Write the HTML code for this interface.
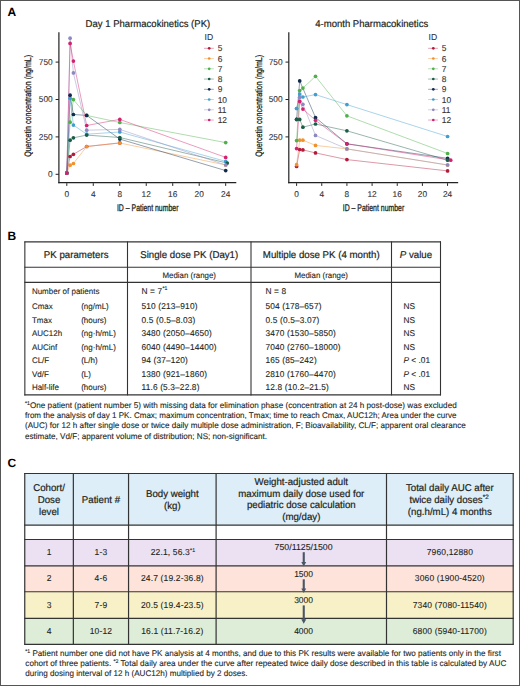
<!DOCTYPE html>
<html><head><meta charset="utf-8"><title>Figure</title>
<style>
html,body{margin:0;padding:0;background:#fff;}
body{width:520px;height:686px;overflow:hidden;font-family:"Liberation Sans", sans-serif;}
svg{display:block;}
</style></head><body>
<svg width="520" height="686" viewBox="0 0 520 686" text-rendering="geometricPrecision" font-family='"Liberation Sans", sans-serif'>
<rect x="0" y="0" width="520" height="686" fill="#fff"/>
<text x="7.4" y="16.1" font-size="12" font-weight="bold" fill="#000">A</text>
<text x="85.6" y="26.8" font-size="9.9" textLength="124.6" lengthAdjust="spacingAndGlyphs" fill="#231f20" stroke="#231f20" stroke-width="0.2">Day 1 Pharmacokinetics (PK)</text>
<text x="0" y="0" font-size="9.3" fill="#231f20" stroke="#231f20" stroke-width="0.3" text-anchor="middle" textLength="102" lengthAdjust="spacingAndGlyphs" transform="translate(31.0,105.8) rotate(-90)">Quercetin concentration (ng/mL)</text>
<line x1="58.9" y1="32.3" x2="58.9" y2="183.2" stroke="#222" stroke-width="1.2"/>
<line x1="58.3" y1="182.7" x2="236.28" y2="182.7" stroke="#222" stroke-width="1.2"/>
<line x1="55.6" y1="174.3" x2="58.9" y2="174.3" stroke="#222" stroke-width="1"/>
<text x="52.699999999999996" y="177.20000000000002" font-size="8.3" text-anchor="end" fill="#333" transform="matrix(1 0 0 1.02 0 -3.54)" stroke="#333" stroke-width="0.1">0</text>
<line x1="55.6" y1="136.9" x2="58.9" y2="136.9" stroke="#222" stroke-width="1"/>
<text x="52.699999999999996" y="139.8" font-size="8.3" text-anchor="end" fill="#333" transform="matrix(1 0 0 1.02 0 -2.80)" stroke="#333" stroke-width="0.1">250</text>
<line x1="55.6" y1="99.5" x2="58.9" y2="99.5" stroke="#222" stroke-width="1"/>
<text x="52.699999999999996" y="102.4" font-size="8.3" text-anchor="end" fill="#333" transform="matrix(1 0 0 1.02 0 -2.05)" stroke="#333" stroke-width="0.1">500</text>
<line x1="55.6" y1="62.10000000000001" x2="58.9" y2="62.10000000000001" stroke="#222" stroke-width="1"/>
<text x="52.699999999999996" y="65.00000000000001" font-size="8.3" text-anchor="end" fill="#333" transform="matrix(1 0 0 1.02 0 -1.30)" stroke="#333" stroke-width="0.1">750</text>
<line x1="66.8" y1="183.2" x2="66.8" y2="185.9" stroke="#222" stroke-width="1"/>
<text x="66.8" y="197.1" font-size="8.3" text-anchor="middle" fill="#333" transform="matrix(1 0 0 1.02 0 -3.94)" stroke="#333" stroke-width="0.1">0</text>
<line x1="93.28" y1="183.2" x2="93.28" y2="185.9" stroke="#222" stroke-width="1"/>
<text x="93.28" y="197.1" font-size="8.3" text-anchor="middle" fill="#333" transform="matrix(1 0 0 1.02 0 -3.94)" stroke="#333" stroke-width="0.1">4</text>
<line x1="119.75999999999999" y1="183.2" x2="119.75999999999999" y2="185.9" stroke="#222" stroke-width="1"/>
<text x="119.75999999999999" y="197.1" font-size="8.3" text-anchor="middle" fill="#333" transform="matrix(1 0 0 1.02 0 -3.94)" stroke="#333" stroke-width="0.1">8</text>
<line x1="146.24" y1="183.2" x2="146.24" y2="185.9" stroke="#222" stroke-width="1"/>
<text x="146.24" y="197.1" font-size="8.3" text-anchor="middle" fill="#333" transform="matrix(1 0 0 1.02 0 -3.94)" stroke="#333" stroke-width="0.1">12</text>
<line x1="172.72" y1="183.2" x2="172.72" y2="185.9" stroke="#222" stroke-width="1"/>
<text x="172.72" y="197.1" font-size="8.3" text-anchor="middle" fill="#333" transform="matrix(1 0 0 1.02 0 -3.94)" stroke="#333" stroke-width="0.1">16</text>
<line x1="199.2" y1="183.2" x2="199.2" y2="185.9" stroke="#222" stroke-width="1"/>
<text x="199.2" y="197.1" font-size="8.3" text-anchor="middle" fill="#333" transform="matrix(1 0 0 1.02 0 -3.94)" stroke="#333" stroke-width="0.1">20</text>
<line x1="225.68" y1="183.2" x2="225.68" y2="185.9" stroke="#222" stroke-width="1"/>
<text x="225.68" y="197.1" font-size="8.3" text-anchor="middle" fill="#333" transform="matrix(1 0 0 1.02 0 -3.94)" stroke="#333" stroke-width="0.1">24</text>
<text x="147.7" y="210.6" font-size="9.5" text-anchor="middle" textLength="61.5" lengthAdjust="spacingAndGlyphs" fill="#231f20" stroke="#231f20" stroke-width="0.3" transform="matrix(1 0 0 1.02 0 -4.21)">ID – Patient number</text>
<polyline points="66.8,173.1 70.1,156.5 73.4,154.3 86.7,146.5 119.8,142.9" fill="none" stroke="#b31b3b" stroke-width="0.75" stroke-opacity="0.6"/>
<polyline points="66.8,173.1 70.1,165.2 73.4,163.5 86.7,146.5 119.8,143.0 225.7,165.0" fill="none" stroke="#f0922e" stroke-width="0.75" stroke-opacity="0.6"/>
<polyline points="66.8,173.1 70.1,122.2 73.4,99.6 86.7,115.4 119.8,122.5 225.7,142.6" fill="none" stroke="#4fb04a" stroke-width="0.75" stroke-opacity="0.6"/>
<polyline points="66.8,173.1 70.1,140.2 73.4,137.8 86.7,135.1 119.8,137.5 227.3,163.1" fill="none" stroke="#1b5c46" stroke-width="0.75" stroke-opacity="0.6"/>
<polyline points="66.8,173.1 70.1,95.2 73.4,114.5 86.7,115.4 119.8,139.1 225.7,170.6" fill="none" stroke="#0f2a4d" stroke-width="0.75" stroke-opacity="0.6"/>
<polyline points="66.8,173.1 70.1,98.2 73.4,125.1 86.7,134.2 119.8,132.0 225.7,161.4" fill="none" stroke="#3f9fcf" stroke-width="0.75" stroke-opacity="0.6"/>
<polyline points="66.8,173.1 70.1,38.2 73.4,72.9 86.7,130.2 119.8,129.4 225.7,165.0" fill="none" stroke="#8d88c0" stroke-width="0.75" stroke-opacity="0.6"/>
<polyline points="66.8,173.1 70.1,43.4 73.4,61.1 86.7,125.5 119.8,119.4 225.7,157.4" fill="none" stroke="#d2226f" stroke-width="0.75" stroke-opacity="0.6"/>
<circle cx="66.8" cy="173.1" r="1.85" fill="#b31b3b"/>
<circle cx="70.1" cy="156.5" r="1.85" fill="#b31b3b"/>
<circle cx="73.4" cy="154.3" r="1.85" fill="#b31b3b"/>
<circle cx="86.7" cy="146.5" r="1.85" fill="#b31b3b"/>
<circle cx="119.8" cy="142.9" r="1.85" fill="#b31b3b"/>
<circle cx="66.8" cy="173.1" r="1.85" fill="#f0922e"/>
<circle cx="70.1" cy="165.2" r="1.85" fill="#f0922e"/>
<circle cx="73.4" cy="163.5" r="1.85" fill="#f0922e"/>
<circle cx="86.7" cy="146.5" r="1.85" fill="#f0922e"/>
<circle cx="119.8" cy="143.0" r="1.85" fill="#f0922e"/>
<circle cx="225.7" cy="165.0" r="1.85" fill="#f0922e"/>
<circle cx="66.8" cy="173.1" r="1.85" fill="#4fb04a"/>
<circle cx="70.1" cy="122.2" r="1.85" fill="#4fb04a"/>
<circle cx="73.4" cy="99.6" r="1.85" fill="#4fb04a"/>
<circle cx="86.7" cy="115.4" r="1.85" fill="#4fb04a"/>
<circle cx="119.8" cy="122.5" r="1.85" fill="#4fb04a"/>
<circle cx="225.7" cy="142.6" r="1.85" fill="#4fb04a"/>
<circle cx="66.8" cy="173.1" r="1.85" fill="#3f9fcf"/>
<circle cx="70.1" cy="98.2" r="1.85" fill="#3f9fcf"/>
<circle cx="73.4" cy="125.1" r="1.85" fill="#3f9fcf"/>
<circle cx="86.7" cy="134.2" r="1.85" fill="#3f9fcf"/>
<circle cx="119.8" cy="132.0" r="1.85" fill="#3f9fcf"/>
<circle cx="225.7" cy="161.4" r="1.85" fill="#3f9fcf"/>
<circle cx="66.8" cy="173.1" r="1.85" fill="#0f2a4d"/>
<circle cx="70.1" cy="95.2" r="1.85" fill="#0f2a4d"/>
<circle cx="73.4" cy="114.5" r="1.85" fill="#0f2a4d"/>
<circle cx="86.7" cy="115.4" r="1.85" fill="#0f2a4d"/>
<circle cx="119.8" cy="139.1" r="1.85" fill="#0f2a4d"/>
<circle cx="225.7" cy="170.6" r="1.85" fill="#0f2a4d"/>
<circle cx="66.8" cy="173.1" r="1.85" fill="#1b5c46"/>
<circle cx="70.1" cy="140.2" r="1.85" fill="#1b5c46"/>
<circle cx="73.4" cy="137.8" r="1.85" fill="#1b5c46"/>
<circle cx="86.7" cy="135.1" r="1.85" fill="#1b5c46"/>
<circle cx="119.8" cy="137.5" r="1.85" fill="#1b5c46"/>
<circle cx="227.3" cy="163.1" r="1.85" fill="#1b5c46"/>
<circle cx="66.8" cy="173.1" r="1.85" fill="#8d88c0"/>
<circle cx="70.1" cy="38.2" r="1.85" fill="#8d88c0"/>
<circle cx="73.4" cy="72.9" r="1.85" fill="#8d88c0"/>
<circle cx="86.7" cy="130.2" r="1.85" fill="#8d88c0"/>
<circle cx="119.8" cy="129.4" r="1.85" fill="#8d88c0"/>
<circle cx="225.7" cy="165.0" r="1.85" fill="#8d88c0"/>
<circle cx="66.8" cy="173.1" r="1.85" fill="#d2226f"/>
<circle cx="70.1" cy="43.4" r="1.85" fill="#d2226f"/>
<circle cx="73.4" cy="61.1" r="1.85" fill="#d2226f"/>
<circle cx="86.7" cy="125.5" r="1.85" fill="#d2226f"/>
<circle cx="119.8" cy="119.4" r="1.85" fill="#d2226f"/>
<circle cx="225.7" cy="157.4" r="1.85" fill="#d2226f"/>
<text x="204.5" y="40.3" font-size="8.6" fill="#333" transform="matrix(1 0 0 1.02 0 -0.81)" stroke="#333" stroke-width="0.1">ID</text>
<line x1="204.0" y1="48.3" x2="213.8" y2="48.3" stroke="#b31b3b" stroke-width="0.9" stroke-opacity="0.45"/>
<circle cx="209.2" cy="48.3" r="1.35" fill="#b31b3b"/>
<text x="217.7" y="51.3" font-size="8.4" fill="#333" transform="matrix(1 0 0 1.02 0 -1.03)" stroke="#333" stroke-width="0.1">5</text>
<line x1="204.0" y1="58.55" x2="213.8" y2="58.55" stroke="#f0922e" stroke-width="0.9" stroke-opacity="0.45"/>
<circle cx="209.2" cy="58.5" r="1.35" fill="#f0922e"/>
<text x="217.7" y="61.55" font-size="8.4" fill="#333" transform="matrix(1 0 0 1.02 0 -1.23)" stroke="#333" stroke-width="0.1">6</text>
<line x1="204.0" y1="68.8" x2="213.8" y2="68.8" stroke="#4fb04a" stroke-width="0.9" stroke-opacity="0.45"/>
<circle cx="209.2" cy="68.8" r="1.35" fill="#4fb04a"/>
<text x="217.7" y="71.8" font-size="8.4" fill="#333" transform="matrix(1 0 0 1.02 0 -1.44)" stroke="#333" stroke-width="0.1">7</text>
<line x1="204.0" y1="79.05" x2="213.8" y2="79.05" stroke="#1b5c46" stroke-width="0.9" stroke-opacity="0.45"/>
<circle cx="209.2" cy="79.0" r="1.35" fill="#1b5c46"/>
<text x="217.7" y="82.05" font-size="8.4" fill="#333" transform="matrix(1 0 0 1.02 0 -1.64)" stroke="#333" stroke-width="0.1">8</text>
<line x1="204.0" y1="89.3" x2="213.8" y2="89.3" stroke="#0f2a4d" stroke-width="0.9" stroke-opacity="0.45"/>
<circle cx="209.2" cy="89.3" r="1.35" fill="#0f2a4d"/>
<text x="217.7" y="92.3" font-size="8.4" fill="#333" transform="matrix(1 0 0 1.02 0 -1.85)" stroke="#333" stroke-width="0.1">9</text>
<line x1="204.0" y1="99.55" x2="213.8" y2="99.55" stroke="#3f9fcf" stroke-width="0.9" stroke-opacity="0.45"/>
<circle cx="209.2" cy="99.5" r="1.35" fill="#3f9fcf"/>
<text x="217.7" y="102.55" font-size="8.4" fill="#333" transform="matrix(1 0 0 1.02 0 -2.05)" stroke="#333" stroke-width="0.1">10</text>
<line x1="204.0" y1="109.8" x2="213.8" y2="109.8" stroke="#8d88c0" stroke-width="0.9" stroke-opacity="0.45"/>
<circle cx="209.2" cy="109.8" r="1.35" fill="#8d88c0"/>
<text x="217.7" y="112.8" font-size="8.4" fill="#333" transform="matrix(1 0 0 1.02 0 -2.26)" stroke="#333" stroke-width="0.1">11</text>
<line x1="204.0" y1="120.05" x2="213.8" y2="120.05" stroke="#d2226f" stroke-width="0.9" stroke-opacity="0.45"/>
<circle cx="209.2" cy="120.0" r="1.35" fill="#d2226f"/>
<text x="217.7" y="123.05" font-size="8.4" fill="#333" transform="matrix(1 0 0 1.02 0 -2.46)" stroke="#333" stroke-width="0.1">12</text>
<text x="315.2" y="26.8" font-size="9.9" textLength="113.0" lengthAdjust="spacingAndGlyphs" fill="#231f20" stroke="#231f20" stroke-width="0.2">4-month Pharmacokinetics</text>
<text x="0" y="0" font-size="9.3" fill="#231f20" stroke="#231f20" stroke-width="0.3" text-anchor="middle" textLength="102" lengthAdjust="spacingAndGlyphs" transform="translate(261.5,105.8) rotate(-90)">Quercetin concentration (ng/mL)</text>
<line x1="288.8" y1="32.3" x2="288.8" y2="183.2" stroke="#222" stroke-width="1.2"/>
<line x1="288.2" y1="182.7" x2="458.1600000000001" y2="182.7" stroke="#222" stroke-width="1.2"/>
<line x1="285.5" y1="136.9" x2="288.8" y2="136.9" stroke="#222" stroke-width="1"/>
<text x="282.6" y="139.8" font-size="8.3" text-anchor="end" fill="#333" transform="matrix(1 0 0 1.02 0 -2.80)" stroke="#333" stroke-width="0.1">250</text>
<line x1="285.5" y1="99.5" x2="288.8" y2="99.5" stroke="#222" stroke-width="1"/>
<text x="282.6" y="102.4" font-size="8.3" text-anchor="end" fill="#333" transform="matrix(1 0 0 1.02 0 -2.05)" stroke="#333" stroke-width="0.1">500</text>
<line x1="285.5" y1="62.10000000000001" x2="288.8" y2="62.10000000000001" stroke="#222" stroke-width="1"/>
<text x="282.6" y="65.00000000000001" font-size="8.3" text-anchor="end" fill="#333" transform="matrix(1 0 0 1.02 0 -1.30)" stroke="#333" stroke-width="0.1">750</text>
<line x1="296.6" y1="183.2" x2="296.6" y2="185.9" stroke="#222" stroke-width="1"/>
<text x="296.6" y="197.1" font-size="8.3" text-anchor="middle" fill="#333" transform="matrix(1 0 0 1.02 0 -3.94)" stroke="#333" stroke-width="0.1">0</text>
<line x1="321.76000000000005" y1="183.2" x2="321.76000000000005" y2="185.9" stroke="#222" stroke-width="1"/>
<text x="321.76000000000005" y="197.1" font-size="8.3" text-anchor="middle" fill="#333" transform="matrix(1 0 0 1.02 0 -3.94)" stroke="#333" stroke-width="0.1">4</text>
<line x1="346.92" y1="183.2" x2="346.92" y2="185.9" stroke="#222" stroke-width="1"/>
<text x="346.92" y="197.1" font-size="8.3" text-anchor="middle" fill="#333" transform="matrix(1 0 0 1.02 0 -3.94)" stroke="#333" stroke-width="0.1">8</text>
<line x1="372.08000000000004" y1="183.2" x2="372.08000000000004" y2="185.9" stroke="#222" stroke-width="1"/>
<text x="372.08000000000004" y="197.1" font-size="8.3" text-anchor="middle" fill="#333" transform="matrix(1 0 0 1.02 0 -3.94)" stroke="#333" stroke-width="0.1">12</text>
<line x1="397.24" y1="183.2" x2="397.24" y2="185.9" stroke="#222" stroke-width="1"/>
<text x="397.24" y="197.1" font-size="8.3" text-anchor="middle" fill="#333" transform="matrix(1 0 0 1.02 0 -3.94)" stroke="#333" stroke-width="0.1">16</text>
<line x1="422.40000000000003" y1="183.2" x2="422.40000000000003" y2="185.9" stroke="#222" stroke-width="1"/>
<text x="422.40000000000003" y="197.1" font-size="8.3" text-anchor="middle" fill="#333" transform="matrix(1 0 0 1.02 0 -3.94)" stroke="#333" stroke-width="0.1">20</text>
<line x1="447.56000000000006" y1="183.2" x2="447.56000000000006" y2="185.9" stroke="#222" stroke-width="1"/>
<text x="447.56000000000006" y="197.1" font-size="8.3" text-anchor="middle" fill="#333" transform="matrix(1 0 0 1.02 0 -3.94)" stroke="#333" stroke-width="0.1">24</text>
<text x="373.5" y="210.6" font-size="9.5" text-anchor="middle" textLength="61.5" lengthAdjust="spacingAndGlyphs" fill="#231f20" stroke="#231f20" stroke-width="0.3" transform="matrix(1 0 0 1.02 0 -4.21)">ID – Patient number</text>
<polyline points="296.6,166.4 299.7,149.5 302.9,149.9 315.5,152.9 346.9,159.6 447.6,170.9" fill="none" stroke="#b31b3b" stroke-width="0.75" stroke-opacity="0.6"/>
<polyline points="296.6,164.7 299.7,140.2 302.9,140.2 315.5,145.4 346.9,148.9 447.6,165.0" fill="none" stroke="#f0922e" stroke-width="0.75" stroke-opacity="0.6"/>
<polyline points="296.6,140.6 299.7,90.5 302.9,88.1 315.5,76.3 346.9,115.8 447.6,153.5" fill="none" stroke="#4fb04a" stroke-width="0.75" stroke-opacity="0.6"/>
<polyline points="296.6,119.4 299.7,119.4 302.9,127.2 315.5,124.0 346.9,130.8 447.6,160.2" fill="none" stroke="#1b5c46" stroke-width="0.75" stroke-opacity="0.6"/>
<polyline points="296.6,119.4 299.7,80.9 315.5,117.5 346.9,143.8 447.6,158.3" fill="none" stroke="#0f2a4d" stroke-width="0.75" stroke-opacity="0.6"/>
<polyline points="296.6,108.5 299.7,94.1 302.9,97.0 315.5,94.6 346.9,104.6 447.6,136.5" fill="none" stroke="#3f9fcf" stroke-width="0.75" stroke-opacity="0.6"/>
<polyline points="296.6,108.5 299.7,97.3 302.9,104.3 315.5,135.4 346.9,148.9 447.6,165.0" fill="none" stroke="#8d88c0" stroke-width="0.75" stroke-opacity="0.6"/>
<polyline points="296.6,148.6 299.7,101.4 302.9,109.1 315.5,120.3 346.9,143.8 450.7,160.2" fill="none" stroke="#d2226f" stroke-width="0.75" stroke-opacity="0.6"/>
<circle cx="296.6" cy="166.4" r="1.85" fill="#b31b3b"/>
<circle cx="299.7" cy="149.5" r="1.85" fill="#b31b3b"/>
<circle cx="302.9" cy="149.9" r="1.85" fill="#b31b3b"/>
<circle cx="315.5" cy="152.9" r="1.85" fill="#b31b3b"/>
<circle cx="346.9" cy="159.6" r="1.85" fill="#b31b3b"/>
<circle cx="447.6" cy="170.9" r="1.85" fill="#b31b3b"/>
<circle cx="296.6" cy="164.7" r="1.85" fill="#f0922e"/>
<circle cx="299.7" cy="140.2" r="1.85" fill="#f0922e"/>
<circle cx="302.9" cy="140.2" r="1.85" fill="#f0922e"/>
<circle cx="315.5" cy="145.4" r="1.85" fill="#f0922e"/>
<circle cx="346.9" cy="148.9" r="1.85" fill="#f0922e"/>
<circle cx="447.6" cy="165.0" r="1.85" fill="#f0922e"/>
<circle cx="296.6" cy="140.6" r="1.85" fill="#4fb04a"/>
<circle cx="299.7" cy="90.5" r="1.85" fill="#4fb04a"/>
<circle cx="302.9" cy="88.1" r="1.85" fill="#4fb04a"/>
<circle cx="315.5" cy="76.3" r="1.85" fill="#4fb04a"/>
<circle cx="346.9" cy="115.8" r="1.85" fill="#4fb04a"/>
<circle cx="447.6" cy="153.5" r="1.85" fill="#4fb04a"/>
<circle cx="296.6" cy="119.4" r="1.85" fill="#0f2a4d"/>
<circle cx="299.7" cy="80.9" r="1.85" fill="#0f2a4d"/>
<circle cx="315.5" cy="117.5" r="1.85" fill="#0f2a4d"/>
<circle cx="346.9" cy="143.8" r="1.85" fill="#0f2a4d"/>
<circle cx="447.6" cy="158.3" r="1.85" fill="#0f2a4d"/>
<circle cx="296.6" cy="119.4" r="1.85" fill="#1b5c46"/>
<circle cx="299.7" cy="119.4" r="1.85" fill="#1b5c46"/>
<circle cx="302.9" cy="127.2" r="1.85" fill="#1b5c46"/>
<circle cx="315.5" cy="124.0" r="1.85" fill="#1b5c46"/>
<circle cx="346.9" cy="130.8" r="1.85" fill="#1b5c46"/>
<circle cx="447.6" cy="160.2" r="1.85" fill="#1b5c46"/>
<circle cx="296.6" cy="108.5" r="1.85" fill="#8d88c0"/>
<circle cx="299.7" cy="97.3" r="1.85" fill="#8d88c0"/>
<circle cx="302.9" cy="104.3" r="1.85" fill="#8d88c0"/>
<circle cx="315.5" cy="135.4" r="1.85" fill="#8d88c0"/>
<circle cx="346.9" cy="148.9" r="1.85" fill="#8d88c0"/>
<circle cx="447.6" cy="165.0" r="1.85" fill="#8d88c0"/>
<circle cx="296.6" cy="108.5" r="1.85" fill="#3f9fcf"/>
<circle cx="299.7" cy="94.1" r="1.85" fill="#3f9fcf"/>
<circle cx="302.9" cy="97.0" r="1.85" fill="#3f9fcf"/>
<circle cx="315.5" cy="94.6" r="1.85" fill="#3f9fcf"/>
<circle cx="346.9" cy="104.6" r="1.85" fill="#3f9fcf"/>
<circle cx="447.6" cy="136.5" r="1.85" fill="#3f9fcf"/>
<circle cx="296.6" cy="148.6" r="1.85" fill="#d2226f"/>
<circle cx="299.7" cy="101.4" r="1.85" fill="#d2226f"/>
<circle cx="302.9" cy="109.1" r="1.85" fill="#d2226f"/>
<circle cx="315.5" cy="120.3" r="1.85" fill="#d2226f"/>
<circle cx="346.9" cy="143.8" r="1.85" fill="#d2226f"/>
<circle cx="450.7" cy="160.2" r="1.85" fill="#d2226f"/>
<text x="428.6" y="40.3" font-size="8.6" fill="#333" transform="matrix(1 0 0 1.02 0 -0.81)" stroke="#333" stroke-width="0.1">ID</text>
<line x1="428.1" y1="48.3" x2="437.90000000000003" y2="48.3" stroke="#b31b3b" stroke-width="0.9" stroke-opacity="0.45"/>
<circle cx="433.3" cy="48.3" r="1.35" fill="#b31b3b"/>
<text x="441.8" y="51.3" font-size="8.4" fill="#333" transform="matrix(1 0 0 1.02 0 -1.03)" stroke="#333" stroke-width="0.1">5</text>
<line x1="428.1" y1="58.55" x2="437.90000000000003" y2="58.55" stroke="#f0922e" stroke-width="0.9" stroke-opacity="0.45"/>
<circle cx="433.3" cy="58.5" r="1.35" fill="#f0922e"/>
<text x="441.8" y="61.55" font-size="8.4" fill="#333" transform="matrix(1 0 0 1.02 0 -1.23)" stroke="#333" stroke-width="0.1">6</text>
<line x1="428.1" y1="68.8" x2="437.90000000000003" y2="68.8" stroke="#4fb04a" stroke-width="0.9" stroke-opacity="0.45"/>
<circle cx="433.3" cy="68.8" r="1.35" fill="#4fb04a"/>
<text x="441.8" y="71.8" font-size="8.4" fill="#333" transform="matrix(1 0 0 1.02 0 -1.44)" stroke="#333" stroke-width="0.1">7</text>
<line x1="428.1" y1="79.05" x2="437.90000000000003" y2="79.05" stroke="#1b5c46" stroke-width="0.9" stroke-opacity="0.45"/>
<circle cx="433.3" cy="79.0" r="1.35" fill="#1b5c46"/>
<text x="441.8" y="82.05" font-size="8.4" fill="#333" transform="matrix(1 0 0 1.02 0 -1.64)" stroke="#333" stroke-width="0.1">8</text>
<line x1="428.1" y1="89.3" x2="437.90000000000003" y2="89.3" stroke="#0f2a4d" stroke-width="0.9" stroke-opacity="0.45"/>
<circle cx="433.3" cy="89.3" r="1.35" fill="#0f2a4d"/>
<text x="441.8" y="92.3" font-size="8.4" fill="#333" transform="matrix(1 0 0 1.02 0 -1.85)" stroke="#333" stroke-width="0.1">9</text>
<line x1="428.1" y1="99.55" x2="437.90000000000003" y2="99.55" stroke="#3f9fcf" stroke-width="0.9" stroke-opacity="0.45"/>
<circle cx="433.3" cy="99.5" r="1.35" fill="#3f9fcf"/>
<text x="441.8" y="102.55" font-size="8.4" fill="#333" transform="matrix(1 0 0 1.02 0 -2.05)" stroke="#333" stroke-width="0.1">10</text>
<line x1="428.1" y1="109.8" x2="437.90000000000003" y2="109.8" stroke="#8d88c0" stroke-width="0.9" stroke-opacity="0.45"/>
<circle cx="433.3" cy="109.8" r="1.35" fill="#8d88c0"/>
<text x="441.8" y="112.8" font-size="8.4" fill="#333" transform="matrix(1 0 0 1.02 0 -2.26)" stroke="#333" stroke-width="0.1">11</text>
<line x1="428.1" y1="120.05" x2="437.90000000000003" y2="120.05" stroke="#d2226f" stroke-width="0.9" stroke-opacity="0.45"/>
<circle cx="433.3" cy="120.0" r="1.35" fill="#d2226f"/>
<text x="441.8" y="123.05" font-size="8.4" fill="#333" transform="matrix(1 0 0 1.02 0 -2.46)" stroke="#333" stroke-width="0.1">12</text>
<text x="7.5" y="240.1" font-size="12" font-weight="bold" fill="#000">B</text>
<line x1="24.85" y1="241.4" x2="24.85" y2="395.4" stroke="#333" stroke-width="1.1"/>
<line x1="127.5" y1="241.4" x2="127.5" y2="395.4" stroke="#333" stroke-width="1.1"/>
<line x1="251.0" y1="241.4" x2="251.0" y2="395.4" stroke="#333" stroke-width="1.1"/>
<line x1="391.5" y1="241.4" x2="391.5" y2="395.4" stroke="#333" stroke-width="1.1"/>
<line x1="440.5" y1="241.4" x2="440.5" y2="395.4" stroke="#333" stroke-width="1.1"/>
<line x1="24.35" y1="241.9" x2="441.0" y2="241.9" stroke="#333" stroke-width="1.1"/>
<line x1="24.35" y1="267.2" x2="441.0" y2="267.2" stroke="#333" stroke-width="1.1"/>
<line x1="24.35" y1="282.4" x2="441.0" y2="282.4" stroke="#333" stroke-width="1.1"/>
<line x1="24.35" y1="394.9" x2="441.0" y2="394.9" stroke="#333" stroke-width="1.1"/>
<text x="76.175" y="257.8" font-size="9.7" text-anchor="middle" fill="#231f20" transform="matrix(1 0 0 1.02 0 -5.16)" stroke="#231f20" stroke-width="0.2">PK parameters</text>
<text x="189.25" y="257.8" font-size="9.7" text-anchor="middle" fill="#231f20" transform="matrix(1 0 0 1.02 0 -5.16)" stroke="#231f20" stroke-width="0.2">Single dose PK (Day1)</text>
<text x="321.25" y="257.8" font-size="9.7" text-anchor="middle" fill="#231f20" transform="matrix(1 0 0 1.02 0 -5.16)" stroke="#231f20" stroke-width="0.2">Multiple dose PK (4 month)</text>
<text x="416.0" y="257.8" font-size="9.7" text-anchor="middle" fill="#231f20" transform="matrix(1 0 0 1.02 0 -5.16)" stroke="#231f20" stroke-width="0.2"><tspan font-style="italic">P</tspan> value</text>
<text x="189.25" y="277.7" font-size="7.9" text-anchor="middle" fill="#231f20" transform="matrix(1 0 0 1.02 0 -5.55)" stroke="#231f20" stroke-width="0.1">Median (range)</text>
<text x="321.25" y="277.7" font-size="7.9" text-anchor="middle" fill="#231f20" transform="matrix(1 0 0 1.02 0 -5.55)" stroke="#231f20" stroke-width="0.1">Median (range)</text>
<text x="31.9" y="293.5" font-size="8.0" fill="#231f20" transform="matrix(1 0 0 1.02 0 -5.87)" stroke="#231f20" stroke-width="0.1">Number of patients</text>
<text x="141.5" y="293.5" font-size="8.35" fill="#231f20" letter-spacing="0.14" transform="matrix(1 0 0 1.02 0 -5.87)" stroke="#231f20" stroke-width="0.1">N = 7<tspan font-size="5.2" dy="-3.2">*1</tspan></text>
<text x="265.5" y="293.5" font-size="8.35" fill="#231f20" letter-spacing="0.14" transform="matrix(1 0 0 1.02 0 -5.87)" stroke="#231f20" stroke-width="0.1">N = 8</text>
<text x="31.9" y="309.3" font-size="8.0" fill="#231f20" transform="matrix(1 0 0 1.02 0 -6.19)" stroke="#231f20" stroke-width="0.1">Cmax</text>
<text x="81.2" y="309.3" font-size="8.0" fill="#231f20" transform="matrix(1 0 0 1.02 0 -6.19)" stroke="#231f20" stroke-width="0.1">(ng/mL)</text>
<text x="141.5" y="309.3" font-size="8.35" fill="#231f20" letter-spacing="0.14" transform="matrix(1 0 0 1.02 0 -6.19)" stroke="#231f20" stroke-width="0.1">510 (213–910)</text>
<text x="265.5" y="309.3" font-size="8.35" fill="#231f20" letter-spacing="0.14" transform="matrix(1 0 0 1.02 0 -6.19)" stroke="#231f20" stroke-width="0.1">504 (178–657)</text>
<text x="403.5" y="309.3" font-size="8.3" fill="#231f20" transform="matrix(1 0 0 1.02 0 -6.19)" stroke="#231f20" stroke-width="0.1">NS</text>
<text x="31.9" y="322.8" font-size="8.0" fill="#231f20" transform="matrix(1 0 0 1.02 0 -6.46)" stroke="#231f20" stroke-width="0.1">Tmax</text>
<text x="81.2" y="322.8" font-size="8.0" fill="#231f20" transform="matrix(1 0 0 1.02 0 -6.46)" stroke="#231f20" stroke-width="0.1">(hours)</text>
<text x="141.5" y="322.8" font-size="8.35" fill="#231f20" letter-spacing="0.14" transform="matrix(1 0 0 1.02 0 -6.46)" stroke="#231f20" stroke-width="0.1">0.5 (0.5–8.03)</text>
<text x="265.5" y="322.8" font-size="8.35" fill="#231f20" letter-spacing="0.14" transform="matrix(1 0 0 1.02 0 -6.46)" stroke="#231f20" stroke-width="0.1">0.5 (0.5–3.07)</text>
<text x="403.5" y="322.8" font-size="8.3" fill="#231f20" transform="matrix(1 0 0 1.02 0 -6.46)" stroke="#231f20" stroke-width="0.1">NS</text>
<text x="31.9" y="336.3" font-size="8.0" fill="#231f20" transform="matrix(1 0 0 1.02 0 -6.73)" stroke="#231f20" stroke-width="0.1">AUC12h</text>
<text x="81.2" y="336.3" font-size="8.0" fill="#231f20" transform="matrix(1 0 0 1.02 0 -6.73)" stroke="#231f20" stroke-width="0.1">(ng·h/mL)</text>
<text x="141.5" y="336.3" font-size="8.35" fill="#231f20" letter-spacing="0.14" transform="matrix(1 0 0 1.02 0 -6.73)" stroke="#231f20" stroke-width="0.1">3480 (2050–4650)</text>
<text x="265.5" y="336.3" font-size="8.35" fill="#231f20" letter-spacing="0.14" transform="matrix(1 0 0 1.02 0 -6.73)" stroke="#231f20" stroke-width="0.1">3470 (1530–5850)</text>
<text x="403.5" y="336.3" font-size="8.3" fill="#231f20" transform="matrix(1 0 0 1.02 0 -6.73)" stroke="#231f20" stroke-width="0.1">NS</text>
<text x="31.9" y="349.8" font-size="8.0" fill="#231f20" transform="matrix(1 0 0 1.02 0 -7.00)" stroke="#231f20" stroke-width="0.1">AUCinf</text>
<text x="81.2" y="349.8" font-size="8.0" fill="#231f20" transform="matrix(1 0 0 1.02 0 -7.00)" stroke="#231f20" stroke-width="0.1">(ng·h/mL)</text>
<text x="141.5" y="349.8" font-size="8.35" fill="#231f20" letter-spacing="0.14" transform="matrix(1 0 0 1.02 0 -7.00)" stroke="#231f20" stroke-width="0.1">6040 (4490–14400)</text>
<text x="265.5" y="349.8" font-size="8.35" fill="#231f20" letter-spacing="0.14" transform="matrix(1 0 0 1.02 0 -7.00)" stroke="#231f20" stroke-width="0.1">7040 (2760–18000)</text>
<text x="403.5" y="349.8" font-size="8.3" fill="#231f20" transform="matrix(1 0 0 1.02 0 -7.00)" stroke="#231f20" stroke-width="0.1">NS</text>
<text x="31.9" y="363.3" font-size="8.0" fill="#231f20" transform="matrix(1 0 0 1.02 0 -7.27)" stroke="#231f20" stroke-width="0.1">CL/F</text>
<text x="81.2" y="363.3" font-size="8.0" fill="#231f20" transform="matrix(1 0 0 1.02 0 -7.27)" stroke="#231f20" stroke-width="0.1">(L/h)</text>
<text x="141.5" y="363.3" font-size="8.35" fill="#231f20" letter-spacing="0.14" transform="matrix(1 0 0 1.02 0 -7.27)" stroke="#231f20" stroke-width="0.1">94 (37–120)</text>
<text x="265.5" y="363.3" font-size="8.35" fill="#231f20" letter-spacing="0.14" transform="matrix(1 0 0 1.02 0 -7.27)" stroke="#231f20" stroke-width="0.1">165 (85–242)</text>
<text x="403.5" y="363.3" font-size="8.3" fill="#231f20" transform="matrix(1 0 0 1.02 0 -7.27)" stroke="#231f20" stroke-width="0.1"><tspan font-style="italic">P</tspan> &lt; .01</text>
<text x="31.9" y="376.8" font-size="8.0" fill="#231f20" transform="matrix(1 0 0 1.02 0 -7.54)" stroke="#231f20" stroke-width="0.1">Vd/F</text>
<text x="81.2" y="376.8" font-size="8.0" fill="#231f20" transform="matrix(1 0 0 1.02 0 -7.54)" stroke="#231f20" stroke-width="0.1">(L)</text>
<text x="141.5" y="376.8" font-size="8.35" fill="#231f20" letter-spacing="0.14" transform="matrix(1 0 0 1.02 0 -7.54)" stroke="#231f20" stroke-width="0.1">1380 (921–1860)</text>
<text x="265.5" y="376.8" font-size="8.35" fill="#231f20" letter-spacing="0.14" transform="matrix(1 0 0 1.02 0 -7.54)" stroke="#231f20" stroke-width="0.1">2810 (1760–4470)</text>
<text x="403.5" y="376.8" font-size="8.3" fill="#231f20" transform="matrix(1 0 0 1.02 0 -7.54)" stroke="#231f20" stroke-width="0.1"><tspan font-style="italic">P</tspan> &lt; .01</text>
<text x="31.9" y="390.3" font-size="8.0" fill="#231f20" transform="matrix(1 0 0 1.02 0 -7.81)" stroke="#231f20" stroke-width="0.1">Half-life</text>
<text x="81.2" y="390.3" font-size="8.0" fill="#231f20" transform="matrix(1 0 0 1.02 0 -7.81)" stroke="#231f20" stroke-width="0.1">(hours)</text>
<text x="141.5" y="390.3" font-size="8.35" fill="#231f20" letter-spacing="0.14" transform="matrix(1 0 0 1.02 0 -7.81)" stroke="#231f20" stroke-width="0.1">11.6 (5.3–22.8)</text>
<text x="265.5" y="390.3" font-size="8.35" fill="#231f20" letter-spacing="0.14" transform="matrix(1 0 0 1.02 0 -7.81)" stroke="#231f20" stroke-width="0.1">12.8 (10.2–21.5)</text>
<text x="403.5" y="390.3" font-size="8.3" fill="#231f20" transform="matrix(1 0 0 1.02 0 -7.81)" stroke="#231f20" stroke-width="0.1">NS</text>
<text x="25.0" y="408.3" font-size="8.1" textLength="431.7" lengthAdjust="spacingAndGlyphs" fill="#231f20" transform="matrix(1 0 0 1.02 0 -8.17)" stroke="#231f20" stroke-width="0.1"><tspan font-size="5.2" dy="-3">*1</tspan><tspan dy="3">One patient (patient number 5) with missing data for elimination phase (concentration at 24 h post-dose) was excluded</tspan></text>
<text x="25.0" y="418.3" font-size="8.1" textLength="431.4" lengthAdjust="spacingAndGlyphs" fill="#231f20" transform="matrix(1 0 0 1.02 0 -8.37)" stroke="#231f20" stroke-width="0.1">from the analysis of day 1 PK. Cmax; maximum concentration, Tmax; time to reach Cmax, AUC12h; Area under the curve</text>
<text x="25.0" y="428.2" font-size="8.1" textLength="440.9" lengthAdjust="spacingAndGlyphs" fill="#231f20" transform="matrix(1 0 0 1.02 0 -8.56)" stroke="#231f20" stroke-width="0.1">(AUC) for 12 h after single dose or twice daily multiple dose administration, F; Bioavailability, CL/F; apparent oral clearance</text>
<text x="25.0" y="438.6" font-size="8.1" fill="#231f20" transform="matrix(1 0 0 1.02 0 -8.77)" stroke="#231f20" stroke-width="0.1">estimate, Vd/F; apparent volume of distribution; NS; non-significant.</text>
<text x="7.6" y="467.2" font-size="12" font-weight="bold" fill="#000">C</text>
<rect x="24.75" y="473.5" width="488.45000000000005" height="51.60000000000002" fill="#ddeef9"/>
<rect x="24.75" y="525.1" width="488.45000000000005" height="14.399999999999977" fill="#ffffff"/>
<rect x="24.75" y="539.5" width="488.45000000000005" height="26.299999999999955" fill="#ebe1f3"/>
<rect x="24.75" y="565.8" width="488.45000000000005" height="25.950000000000045" fill="#fde3da"/>
<rect x="24.75" y="591.75" width="488.45000000000005" height="26.649999999999977" fill="#f8f1c7"/>
<rect x="24.75" y="618.4" width="488.45000000000005" height="25.899999999999977" fill="#deedd8"/>
<line x1="24.75" y1="472.95" x2="24.75" y2="644.8499999999999" stroke="#333" stroke-width="1.2"/>
<line x1="73.35" y1="472.95" x2="73.35" y2="644.8499999999999" stroke="#333" stroke-width="1.2"/>
<line x1="128.55" y1="472.95" x2="128.55" y2="644.8499999999999" stroke="#333" stroke-width="1.2"/>
<line x1="216.1" y1="472.95" x2="216.1" y2="644.8499999999999" stroke="#333" stroke-width="1.2"/>
<line x1="386.5" y1="472.95" x2="386.5" y2="644.8499999999999" stroke="#333" stroke-width="1.2"/>
<line x1="513.2" y1="472.95" x2="513.2" y2="644.8499999999999" stroke="#333" stroke-width="1.2"/>
<line x1="24.2" y1="473.5" x2="513.75" y2="473.5" stroke="#333" stroke-width="1.2"/>
<line x1="24.2" y1="525.1" x2="513.75" y2="525.1" stroke="#333" stroke-width="1.2"/>
<line x1="24.2" y1="539.5" x2="513.75" y2="539.5" stroke="#333" stroke-width="1.2"/>
<line x1="24.2" y1="565.8" x2="513.75" y2="565.8" stroke="#333" stroke-width="1.2"/>
<line x1="24.2" y1="591.75" x2="513.75" y2="591.75" stroke="#333" stroke-width="1.2"/>
<line x1="24.2" y1="618.4" x2="513.75" y2="618.4" stroke="#333" stroke-width="1.2"/>
<line x1="24.2" y1="644.3" x2="513.75" y2="644.3" stroke="#333" stroke-width="1.2"/>
<text x="49.05" y="491.1" font-size="9.7" text-anchor="middle" fill="#231f20" transform="matrix(1 0 0 1.02 0 -9.82)" stroke="#231f20" stroke-width="0.2">Cohort/</text>
<text x="49.05" y="503.2" font-size="9.7" text-anchor="middle" fill="#231f20" transform="matrix(1 0 0 1.02 0 -10.06)" stroke="#231f20" stroke-width="0.2">Dose</text>
<text x="49.05" y="515.3" font-size="9.7" text-anchor="middle" fill="#231f20" transform="matrix(1 0 0 1.02 0 -10.31)" stroke="#231f20" stroke-width="0.2">level</text>
<text x="100.95" y="503.1" font-size="9.7" text-anchor="middle" fill="#231f20" transform="matrix(1 0 0 1.02 0 -10.06)" stroke="#231f20" stroke-width="0.2">Patient #</text>
<text x="172.325" y="497.2" font-size="9.7" text-anchor="middle" fill="#231f20" transform="matrix(1 0 0 1.02 0 -9.94)" stroke="#231f20" stroke-width="0.2">Body weight</text>
<text x="172.325" y="509.1" font-size="9.7" text-anchor="middle" fill="#231f20" transform="matrix(1 0 0 1.02 0 -10.18)" stroke="#231f20" stroke-width="0.2">(kg)</text>
<text x="301.3" y="484.7" font-size="9.7" text-anchor="middle" fill="#231f20" transform="matrix(1 0 0 1.02 0 -9.69)" stroke="#231f20" stroke-width="0.2">Weight-adjusted adult</text>
<text x="301.3" y="496.5" font-size="9.7" text-anchor="middle" fill="#231f20" transform="matrix(1 0 0 1.02 0 -9.93)" stroke="#231f20" stroke-width="0.2">maximum daily dose used for</text>
<text x="301.3" y="508.2" font-size="9.7" text-anchor="middle" fill="#231f20" transform="matrix(1 0 0 1.02 0 -10.16)" stroke="#231f20" stroke-width="0.2">pediatric dose calculation</text>
<text x="301.3" y="519.8" font-size="9.7" text-anchor="middle" fill="#231f20" transform="matrix(1 0 0 1.02 0 -10.40)" stroke="#231f20" stroke-width="0.2">(mg/day)</text>
<text x="449.85" y="490.9" font-size="9.7" text-anchor="middle" fill="#231f20" transform="matrix(1 0 0 1.02 0 -9.82)" stroke="#231f20" stroke-width="0.2">Total daily AUC after</text>
<text x="449.05" y="502.9" font-size="9.7" text-anchor="middle" fill="#231f20" transform="matrix(1 0 0 1.02 0 -10.06)" stroke="#231f20" stroke-width="0.2">twice daily doses<tspan font-size="6.3" dy="-3.6">*2</tspan></text>
<text x="449.85" y="514.7" font-size="9.7" text-anchor="middle" fill="#231f20" transform="matrix(1 0 0 1.02 0 -10.29)" stroke="#231f20" stroke-width="0.2">(ng.h/mL) 4 months</text>
<text x="49.05" y="555.35" font-size="8.5" text-anchor="middle" fill="#231f20" transform="matrix(1 0 0 1.02 0 -11.11)" stroke="#231f20" stroke-width="0.1">1</text>
<text x="100.95" y="555.35" font-size="8.5" text-anchor="middle" fill="#231f20" letter-spacing="0.15" transform="matrix(1 0 0 1.02 0 -11.11)" stroke="#231f20" stroke-width="0.1">1-3</text>
<text x="172.92499999999998" y="555.35" font-size="8.5" text-anchor="middle" fill="#231f20" letter-spacing="0.15" transform="matrix(1 0 0 1.02 0 -11.11)" stroke="#231f20" stroke-width="0.1">22.1, 56.3<tspan font-size="5.2" dy="-3.2">*1</tspan></text>
<text x="303.6" y="549.7" font-size="8.5" text-anchor="middle" textLength="58.0" lengthAdjust="spacingAndGlyphs" fill="#231f20" transform="matrix(1 0 0 1.02 0 -10.99)" stroke="#231f20" stroke-width="0.1">750/1125/1500</text>
<text x="449.85" y="555.35" font-size="8.5" text-anchor="middle" fill="#231f20" letter-spacing="0.15" transform="matrix(1 0 0 1.02 0 -11.11)" stroke="#231f20" stroke-width="0.1">7960,12880</text>
<text x="49.05" y="581.475" font-size="8.5" text-anchor="middle" fill="#231f20" transform="matrix(1 0 0 1.02 0 -11.63)" stroke="#231f20" stroke-width="0.1">2</text>
<text x="100.95" y="581.475" font-size="8.5" text-anchor="middle" fill="#231f20" letter-spacing="0.15" transform="matrix(1 0 0 1.02 0 -11.63)" stroke="#231f20" stroke-width="0.1">4-6</text>
<text x="172.325" y="581.475" font-size="8.5" text-anchor="middle" fill="#231f20" letter-spacing="0.15" transform="matrix(1 0 0 1.02 0 -11.63)" stroke="#231f20" stroke-width="0.1">24.7 (19.2-36.8)</text>
<text x="303.6" y="576.9" font-size="8.5" text-anchor="middle" fill="#231f20" transform="matrix(1 0 0 1.02 0 -11.54)" stroke="#231f20" stroke-width="0.1">1500</text>
<text x="449.85" y="581.475" font-size="8.5" text-anchor="middle" fill="#231f20" letter-spacing="0.15" transform="matrix(1 0 0 1.02 0 -11.63)" stroke="#231f20" stroke-width="0.1">3060 (1900-4520)</text>
<text x="49.05" y="607.7750000000001" font-size="8.5" text-anchor="middle" fill="#231f20" transform="matrix(1 0 0 1.02 0 -12.16)" stroke="#231f20" stroke-width="0.1">3</text>
<text x="100.95" y="607.7750000000001" font-size="8.5" text-anchor="middle" fill="#231f20" letter-spacing="0.15" transform="matrix(1 0 0 1.02 0 -12.16)" stroke="#231f20" stroke-width="0.1">7-9</text>
<text x="172.325" y="607.7750000000001" font-size="8.5" text-anchor="middle" fill="#231f20" letter-spacing="0.15" transform="matrix(1 0 0 1.02 0 -12.16)" stroke="#231f20" stroke-width="0.1">20.5 (19.4-23.5)</text>
<text x="303.6" y="603.3" font-size="8.5" text-anchor="middle" fill="#231f20" transform="matrix(1 0 0 1.02 0 -12.07)" stroke="#231f20" stroke-width="0.1">3000</text>
<text x="449.85" y="607.7750000000001" font-size="8.5" text-anchor="middle" fill="#231f20" letter-spacing="0.15" transform="matrix(1 0 0 1.02 0 -12.16)" stroke="#231f20" stroke-width="0.1">7340 (7080-11540)</text>
<text x="49.05" y="634.05" font-size="8.5" text-anchor="middle" fill="#231f20" transform="matrix(1 0 0 1.02 0 -12.68)" stroke="#231f20" stroke-width="0.1">4</text>
<text x="100.95" y="634.05" font-size="8.5" text-anchor="middle" fill="#231f20" letter-spacing="0.15" transform="matrix(1 0 0 1.02 0 -12.68)" stroke="#231f20" stroke-width="0.1">10-12</text>
<text x="172.325" y="634.05" font-size="8.5" text-anchor="middle" fill="#231f20" letter-spacing="0.15" transform="matrix(1 0 0 1.02 0 -12.68)" stroke="#231f20" stroke-width="0.1">16.1 (11.7-16.2)</text>
<text x="303.6" y="633.8" font-size="8.5" text-anchor="middle" fill="#231f20" transform="matrix(1 0 0 1.02 0 -12.68)" stroke="#231f20" stroke-width="0.1">4000</text>
<text x="449.85" y="634.05" font-size="8.5" text-anchor="middle" fill="#231f20" letter-spacing="0.15" transform="matrix(1 0 0 1.02 0 -12.68)" stroke="#231f20" stroke-width="0.1">6800 (5940-11700)</text>
<rect x="302.7" y="552.2" width="2.1" height="10.6" fill="#4a5566"/>
<path d="M301.3 562.0 L306.2 562.0 L303.75 566.4 Z" fill="#4a5566"/>
<rect x="302.7" y="579.3" width="2.1" height="10.1" fill="#4a5566"/>
<path d="M301.3 588.6 L306.2 588.6 L303.75 593.0 Z" fill="#4a5566"/>
<rect x="302.7" y="605.4" width="2.1" height="14.7" fill="#4a5566"/>
<path d="M301.3 619.3 L306.2 619.3 L303.75 623.7 Z" fill="#4a5566"/>
<text x="25.3" y="656.2" font-size="8.1" textLength="475.6" lengthAdjust="spacingAndGlyphs" fill="#231f20" transform="matrix(1 0 0 1.02 0 -13.12)" stroke="#231f20" stroke-width="0.1"><tspan font-size="5.2" dy="-3">*1</tspan><tspan dy="3"> Patient number one did not have PK analysis at 4 months, and due to this PK results were available for two patients only in the first</tspan></text>
<text x="25.3" y="666.4" font-size="8.1" textLength="481.0" lengthAdjust="spacingAndGlyphs" fill="#231f20" transform="matrix(1 0 0 1.02 0 -13.33)" stroke="#231f20" stroke-width="0.1">cohort of three patients. <tspan font-size="5.2" dy="-3">*2</tspan><tspan dy="3"> Total daily area under the curve after repeated twice daily dose described in this table is calculated by AUC</tspan></text>
<text x="25.3" y="676.4" font-size="8.1" fill="#231f20" transform="matrix(1 0 0 1.02 0 -13.53)" stroke="#231f20" stroke-width="0.1">during dosing interval of 12 h (AUC12h) multiplied by 2 doses.</text>
<rect x="0.5" y="0.5" width="519" height="685" fill="none" stroke="#555" stroke-width="1"/>
</svg>
</body></html>
